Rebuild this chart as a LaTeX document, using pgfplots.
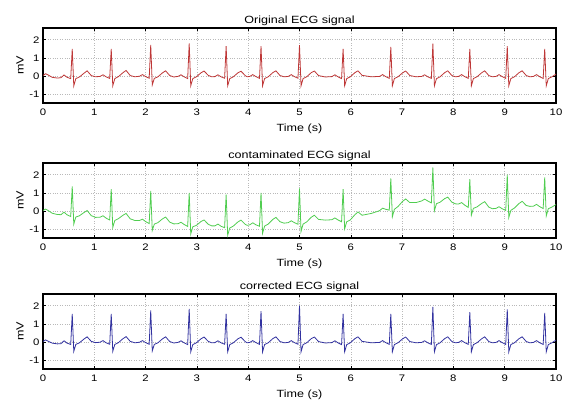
\documentclass[border=0pt]{standalone}
\usepackage{fontspec}
\setmainfont{Liberation Sans}[FakeStretch=1.2]
\usepackage{pgfplots}
\usepackage{pgfplotstable}
\pgfplotsset{compat=1.18}
\definecolor{ecgred}{RGB}{190,55,55}
\definecolor{ecggreen}{RGB}{80,205,80}
\definecolor{ecgblue}{RGB}{50,50,160}
\pgfplotstableread{
t o c r
0.00 0.02 0.02 0.02
0.05 0.12 0.10 0.11
0.10 0.05 0.02 0.04
0.18 -0.08 -0.13 -0.07
0.28 -0.12 -0.20 -0.11
0.35 -0.10 -0.21 -0.10
0.41 0.05 -0.07 0.06
0.47 -0.08 -0.22 -0.07
0.54 -0.15 -0.31 -0.14
0.57 1.50 1.36 1.55
0.60 -0.55 -0.73 -0.52
0.64 -0.15 -0.34 -0.14
0.71 -0.06 -0.27 -0.05
0.80 0.15 -0.09 0.16
0.86 0.28 0.02 0.28
0.94 0.02 -0.26 0.03
1.02 -0.05 -0.36 -0.04
1.11 -0.03 -0.35 -0.02
1.17 0.06 -0.27 0.07
1.23 -0.05 -0.40 -0.05
1.30 -0.14 -0.50 -0.13
1.33 1.50 1.20 1.55
1.36 -0.55 -0.92 -0.52
1.40 -0.15 -0.53 -0.14
1.47 -0.04 -0.43 -0.04
1.56 0.18 -0.24 0.18
1.62 0.30 -0.14 0.29
1.70 0.02 -0.44 0.03
1.79 -0.05 -0.53 -0.05
1.88 -0.02 -0.53 -0.02
1.94 0.07 -0.46 0.07
2.00 -0.04 -0.59 -0.04
2.07 -0.13 -0.70 -0.13
2.10 1.72 1.10 1.74
2.13 -0.50 -1.08 -0.50
2.17 -0.14 -0.73 -0.14
2.24 -0.05 -0.65 -0.05
2.33 0.17 -0.44 0.17
2.39 0.28 -0.34 0.28
2.47 0.02 -0.62 0.02
2.55 -0.06 -0.72 -0.06
2.63 -0.03 -0.71 -0.03
2.69 0.06 -0.63 0.06
2.75 -0.05 -0.75 -0.05
2.82 -0.15 -0.86 -0.15
2.85 1.80 1.00 1.83
2.88 -0.55 -1.28 -0.55
2.92 -0.15 -0.88 -0.15
2.99 -0.05 -0.80 -0.05
3.08 0.17 -0.59 0.17
3.14 0.27 -0.50 0.27
3.22 0.03 -0.74 0.03
3.29 -0.05 -0.83 -0.05
3.35 -0.04 -0.83 -0.04
3.41 0.06 -0.73 0.06
3.47 -0.05 -0.85 -0.05
3.54 -0.13 -0.93 -0.13
3.57 1.65 0.90 1.55
3.60 -0.55 -1.35 -0.55
3.64 -0.15 -0.95 -0.15
3.71 -0.05 -0.84 -0.05
3.80 0.17 -0.61 0.17
3.86 0.26 -0.51 0.26
3.94 0.02 -0.74 0.02
3.98 -0.05 -0.80 -0.05
4.03 -0.03 -0.77 -0.03
4.09 0.07 -0.66 0.07
4.15 -0.04 -0.77 -0.04
4.22 -0.14 -0.85 -0.14
4.25 1.65 1.00 1.70
4.28 -0.55 -1.24 -0.55
4.32 -0.15 -0.84 -0.15
4.39 -0.05 -0.73 -0.05
4.48 0.18 -0.47 0.18
4.54 0.28 -0.36 0.28
4.62 0.02 -0.60 0.02
4.70 -0.05 -0.68 -0.05
4.78 -0.03 -0.65 -0.03
4.84 0.07 -0.55 0.07
4.90 -0.04 -0.65 -0.04
4.97 -0.13 -0.74 -0.13
5.00 1.70 1.25 2.00
5.03 -0.55 -1.14 -0.55
5.07 -0.15 -0.73 -0.15
5.14 -0.05 -0.61 -0.05
5.23 0.18 -0.35 0.18
5.29 0.27 -0.24 0.27
5.37 0.02 -0.47 0.02
5.50 -0.06 -0.51 -0.06
5.63 -0.04 -0.49 -0.04
5.69 0.06 -0.39 0.06
5.75 -0.05 -0.50 -0.05
5.82 -0.15 -0.60 -0.15
5.85 1.50 1.20 1.55
5.88 -0.55 -1.00 -0.55
5.92 -0.15 -0.60 -0.15
5.99 -0.05 -0.50 -0.05
6.08 0.18 -0.21 0.18
6.14 0.28 -0.06 0.28
6.22 0.03 -0.24 0.03
6.40 -0.05 -0.14 -0.05
6.56 -0.03 0.01 -0.03
6.62 0.07 0.15 0.07
6.68 -0.04 0.09 -0.04
6.75 -0.14 0.04 -0.14
6.78 1.60 1.80 1.55
6.81 -0.55 -0.33 -0.55
6.85 -0.15 0.09 -0.15
6.92 -0.05 0.24 -0.05
7.01 0.17 0.53 0.17
7.07 0.27 0.66 0.27
7.15 0.02 0.46 0.02
7.27 -0.05 0.46 -0.05
7.38 -0.03 0.55 -0.03
7.44 0.06 0.65 0.06
7.50 -0.05 0.55 -0.05
7.57 -0.14 0.44 -0.14
7.60 1.78 2.40 1.93
7.63 -0.55 0.01 -0.55
7.67 -0.15 0.40 -0.15
7.74 -0.05 0.48 -0.05
7.83 0.18 0.68 0.18
7.89 0.28 0.76 0.28
7.97 0.02 0.48 0.02
8.04 -0.05 0.39 -0.05
8.10 -0.03 0.38 -0.03
8.16 0.07 0.46 0.07
8.22 -0.04 0.32 -0.04
8.29 -0.14 0.19 -0.14
8.32 1.50 1.75 1.65
8.35 -0.55 -0.24 -0.55
8.39 -0.15 0.14 -0.15
8.46 -0.05 0.22 -0.05
8.55 0.17 0.41 0.17
8.61 0.28 0.51 0.28
8.69 0.02 0.21 0.02
8.76 -0.05 0.12 -0.05
8.83 -0.03 0.14 -0.03
8.89 0.07 0.23 0.07
8.95 -0.04 0.12 -0.04
9.02 -0.14 0.02 -0.14
9.05 1.65 2.00 1.80
9.08 -0.55 -0.37 -0.55
9.12 -0.15 0.03 -0.15
9.19 -0.05 0.16 -0.05
9.28 0.18 0.41 0.18
9.34 0.28 0.53 0.28
9.42 0.02 0.30 0.02
9.49 -0.05 0.25 -0.05
9.56 -0.03 0.26 -0.03
9.62 0.07 0.36 0.07
9.68 -0.04 0.24 -0.04
9.75 -0.14 0.13 -0.14
9.78 1.50 1.85 1.60
9.81 -0.55 -0.28 -0.55
9.85 -0.15 0.12 -0.15
9.92 -0.05 0.21 -0.05
10.00 0.10 0.35 0.10
}\ecg
\pgfplotsset{
  ecg/.style={
    scale only axis, width=513bp, height=75bp,
    anchor=south west,
    xmin=0, xmax=10, ymin=-1.5, ymax=2.65,
    xtick={0,1,...,10}, ytick={-1,0,1,2},
    grid=major,
    major grid style={dotted, gray!55, line width=0.6pt},
    axis line style={line width=1.1pt},
    tick align=inside,
    major tick length=3bp,
    every tick/.style={black, line width=0.6pt},
    xlabel={Time (s)}, ylabel={mV},
    /pgf/number format/assume math mode=true,
    tick label style={font=\fontsize{9.5}{11}\selectfont},
    xticklabel style={yshift=-2bp},
    label style={font=\fontsize{10.5}{12}\selectfont},
    title style={font=\fontsize{10.5}{12}\selectfont, yshift=-7bp},
    xlabel style={yshift=-2bp},
    ylabel style={yshift=-1bp},
    clip=true,
  }
}
\begin{document}
\begin{tikzpicture}
\begin{axis}[ecg, at={(43bp,298bp)}, title={Original ECG signal}]
\addplot[ecgred, line width=0.8pt] table[x=t, y=o] {\ecg};
\end{axis}
\begin{axis}[ecg, at={(43bp,163bp)}, title={contaminated ECG signal}]
\addplot[ecggreen, line width=0.8pt] table[x=t, y=c] {\ecg};
\end{axis}
\begin{axis}[ecg, at={(43bp,32bp)}, title={corrected ECG signal}]
\addplot[ecgblue, line width=0.8pt] table[x=t, y=r] {\ecg};
\end{axis}
\pgfresetboundingbox
\useasboundingbox (0,0) rectangle (565bp,401bp);
\end{tikzpicture}
\end{document}
